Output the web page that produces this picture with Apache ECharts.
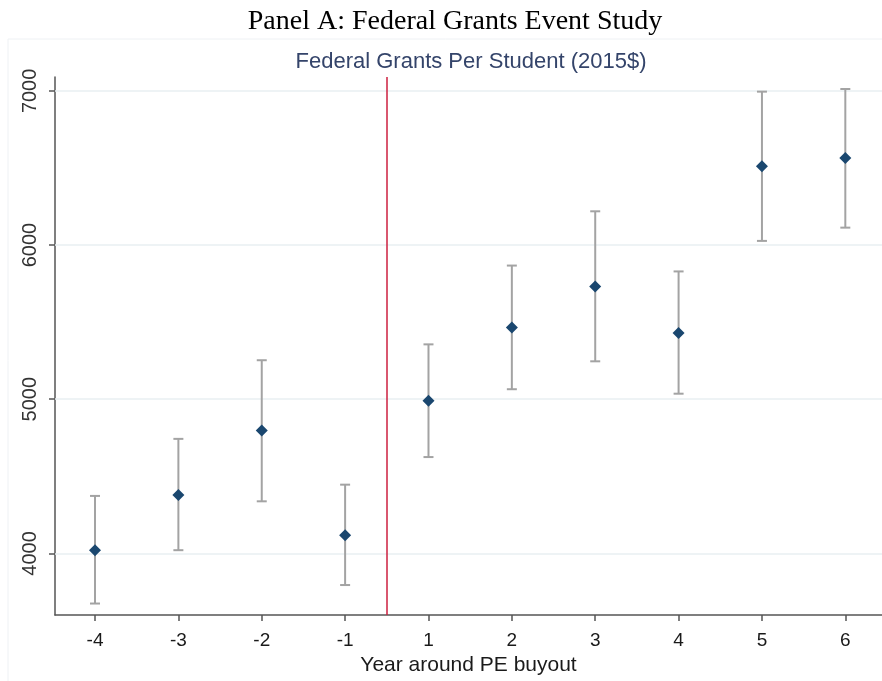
<!DOCTYPE html>
<html>
<head>
<meta charset="utf-8">
<script src="https://cdn.jsdelivr.net/npm/echarts@6/dist/echarts.min.js"></script>
<style>
  html, body { margin: 0; padding: 0; background: #ffffff; }
  #chart { width: 882px; height: 681px; }
</style>
</head>
<body>
<div id="chart"></div>
<script>
// Event-study estimates of federal grants per student (2015$), by year around the PE buyout
const years = ['-4', '-3', '-2', '-1', '1', '2', '3', '4', '5', '6'];
const estimates = [4021, 4379, 4797, 4118, 4990, 5466, 5732, 5430, 6511, 6564];
const ciLower = [3675, 4021, 4338, 3795, 4625, 5065, 5246, 5036, 6027, 6113];
const ciUpper = [4373, 4743, 5253, 4446, 5356, 5867, 6219, 5829, 6995, 7012];
const yTicks = [4000, 5000, 6000, 7000];
const buyoutPosition = 4.5; // between year -1 and year 1

// each year sits at an integer slot on the x axis
const slots = years.map((_, i) => i + 1);

const chart = echarts.init(document.getElementById('chart'));

chart.setOption({
  backgroundColor: '#ffffff',
  animation: false,
  title: [
    {
      text: 'Panel A: Federal Grants Event Study',
      left: 450,
      textAlign: 'center',
      top: 3,
      textStyle: {
        fontFamily: 'Liberation Serif',
        fontWeight: 'normal',
        fontSize: 28,
        color: '#000000'
      }
    },
    {
      text: 'Federal Grants Per Student (2015$)',
      left: 466,
      textAlign: 'center',
      top: 46,
      textStyle: {
        fontFamily: 'Liberation Sans',
        fontWeight: 'normal',
        fontSize: 22,
        color: '#34446a'
      }
    }
  ],
  graphic: [
    {
      type: 'rect',
      shape: { x: 8, y: 39, width: 900, height: 700 },
      style: { fill: 'none', stroke: '#eef1f4', lineWidth: 1 },
      silent: true,
      z: -1
    }
  ],
  grid: {
    left: 55,
    right: 0,
    top: 77,
    bottom: 64,
    containLabel: false
  },
  xAxis: {
    type: 'value',
    min: 0.52,
    max: 10.44,
    name: 'Year around PE buyout',
    nameLocation: 'middle',
    nameGap: 36,
    nameTextStyle: {
      fontFamily: 'Liberation Sans',
      fontSize: 21,
      color: '#1a1a1a'
    },
    axisLine: { show: true, onZero: false, lineStyle: { color: '#555555', width: 1.5 } },
    axisTick: {
      show: true,
      customValues: slots,
      length: 6,
      lineStyle: { color: '#555555', width: 1.5 }
    },
    axisLabel: {
      customValues: slots,
      formatter: (v) => years[Math.round(v) - 1],
      margin: 16,
      fontFamily: 'Liberation Sans',
      fontSize: 19,
      color: '#1a1a1a'
    },
    splitLine: { show: false }
  },
  yAxis: {
    type: 'value',
    min: 3600,
    max: 7090,
    axisLine: { show: true, onZero: false, lineStyle: { color: '#555555', width: 1.5 } },
    axisTick: {
      show: true,
      customValues: yTicks,
      length: 6,
      lineStyle: { color: '#555555', width: 1.5 }
    },
    axisLabel: {
      customValues: yTicks,
      formatter: (v) => String(v),
      rotate: 90,
      margin: 15,
      fontFamily: 'Liberation Sans',
      fontSize: 20,
      color: '#333333'
    },
    splitLine: { show: false }
  },
  series: [
    {
      name: 'ci',
      type: 'custom',
      z: 2,
      data: slots.map((s, i) => [s, ciLower[i], ciUpper[i]]),
      renderItem: function (params, api) {
        const x = api.value(0);
        const lo = api.coord([x, api.value(1)]);
        const hi = api.coord([x, api.value(2)]);
        const cap = 5;
        const style = { stroke: '#a3a3a3', lineWidth: 2 };
        return {
          type: 'group',
          children: [
            { type: 'line', shape: { x1: lo[0], y1: lo[1], x2: hi[0], y2: hi[1] }, style: style },
            { type: 'line', shape: { x1: lo[0] - cap, y1: lo[1], x2: lo[0] + cap, y2: lo[1] }, style: style },
            { type: 'line', shape: { x1: hi[0] - cap, y1: hi[1], x2: hi[0] + cap, y2: hi[1] }, style: style }
          ]
        };
      },
      markLine: {
        silent: true,
        symbol: 'none',
        label: { show: false },
        z: 1,
        data: yTicks.map((t) => ({
          yAxis: t,
          lineStyle: { color: '#e9eff2', width: 1.5, type: 'solid' }
        })).concat([{
          xAxis: buyoutPosition,
          lineStyle: { color: '#cc1f3f', width: 1.5, type: 'solid' }
        }])
      }
    },
    {
      name: 'estimate',
      type: 'scatter',
      z: 3,
      symbol: 'diamond',
      symbolSize: [12, 12],
      itemStyle: { color: '#1a476f', opacity: 1 },
      data: slots.map((s, i) => [s, estimates[i]])
    }
  ]
});
</script>
</body>
</html>
